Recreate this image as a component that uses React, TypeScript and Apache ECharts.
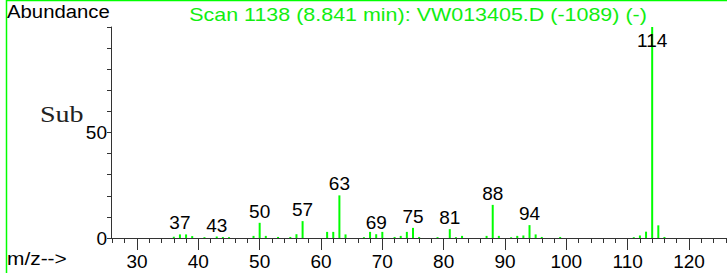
import React, { useEffect, useRef } from "react";
import * as echarts from "echarts";

const TITLE = "Scan 1138 (8.841 min): VW013405.D (-1089) (-)";
const mzValues = [36, 37, 38, 39, 41, 43, 44, 45, 49, 50, 51, 53, 55, 56, 57, 61, 62, 63, 64, 67, 68, 69, 70, 72, 73, 74, 75, 76, 79, 81, 82, 83, 87, 88, 89, 91, 92, 93, 94, 95, 96, 99, 111, 112, 113, 114, 115, 116];
const abundance = [0.6, 1.7, 1.7, 0.9, 0.4, 0.7, 0.5, 0.4, 1.0, 7.2, 1.0, 0.5, 0.5, 1.8, 8.0, 2.9, 2.9, 20.2, 1.7, 0.4, 2.9, 1.8, 2.9, 0.5, 1.0, 2.9, 4.8, 0.5, 0.4, 4.2, 0.4, 1.0, 1.0, 15.7, 1.0, 0.4, 1.0, 1.2, 6.1, 1.7, 0.5, 0.5, 0.4, 1.2, 3.0, 100, 6.0, 0.5];
const labeledPeaks = [37, 43, 50, 57, 63, 69, 75, 81, 88, 94, 114];
const xMajorTicks = [30, 40, 50, 60, 70, 80, 90, 100, 110, 120];
const xMinorTicks = [26, 28, 30, 32, 34, 36, 38, 40, 42, 44, 46, 48, 50, 52, 54, 56, 58, 60, 62, 64, 66, 68, 70, 72, 74, 76, 78, 80, 82, 84, 86, 88, 90, 92, 94, 96, 98, 100, 102, 104, 106, 108, 110, 112, 114, 116, 118, 120, 122, 124, 126];
const yTicks = [0, 10, 20, 30, 40, 50, 60, 70, 80, 90, 100];
const yLabels = [0, 50];

const GREEN = "#00ff00";
const AXIS = "#333333";
const FONT = "Liberation Sans, Arial, sans-serif";

export default function App() {
  const ref = useRef<HTMLDivElement>(null);
  useEffect(() => {
    if (!ref.current) return;
    const chart = echarts.init(ref.current, null, { renderer: "svg" });
    const maxVal = Math.max(...abundance);
    const data = mzValues.map((m, i) => {
      const v = abundance[i];
      if (labeledPeaks.includes(m)) {
        const isTop = v === maxVal;
        return {
          value: [m, v],
          label: {
            show: true,
            formatter: String(m),
            position: isTop ? "insideTop" : "top",
            distance: isTop ? 4 : 2,
            color: "#000",
            fontSize: 19,
            fontFamily: FONT,
          },
        };
      }
      return { value: [m, v] };
    });
    chart.setOption({
      animation: false,
      backgroundColor: "#fff",
      grid: { left: 111, right: 0, top: 27, bottom: 35, containLabel: false },
      xAxis: [
        {
          type: "value",
          min: 25.76,
          max: 126.2,
          axisLine: { show: true, onZero: false, lineStyle: { color: AXIS, width: 1 } },
          axisTick: { show: true, customValues: xMinorTicks, length: 5, lineStyle: { color: AXIS } },
          axisLabel: { show: true, customValues: xMajorTicks, color: "#000", fontSize: 19, fontFamily: FONT, margin: 14 },
          splitLine: { show: false },
        },
        {
          type: "value",
          min: 25.76,
          max: 126.2,
          position: "bottom",
          axisLine: { show: false },
          axisTick: { show: true, customValues: xMajorTicks, length: 12, lineStyle: { color: AXIS } },
          axisLabel: { show: false },
          splitLine: { show: false },
        },
      ],
      yAxis: {
        type: "value",
        min: 0,
        max: 100,
        axisLine: { show: true, lineStyle: { color: AXIS, width: 1 } },
        axisTick: { show: true, customValues: yTicks, length: 4, lineStyle: { color: AXIS } },
        axisLabel: { show: true, customValues: yLabels, color: "#000", fontSize: 19, fontFamily: FONT, margin: 4 },
        splitLine: { show: false },
      },
      series: [
        {
          type: "bar",
          xAxisIndex: 0,
          barWidth: 2,
          itemStyle: { color: GREEN },
          data,
        },
      ],
      graphic: [
        { type: "line", shape: { x1: 6.5, y1: 0, x2: 6.5, y2: 273 }, style: { stroke: GREEN, lineWidth: 1.5 } },
        { type: "line", shape: { x1: 6, y1: 0.5, x2: 727, y2: 0.5 }, style: { stroke: GREEN, lineWidth: 1.5 } },
        { type: "text", x: 7, y: 11, scaleX: 1.07, style: { text: "Abundance", fontSize: 19, fontFamily: FONT, fill: "#000", textVerticalAlign: "middle" } },
        { type: "text", x: 418, y: 14, scaleX: 1.13, style: { text: TITLE, fontSize: 19, fontFamily: FONT, fill: "#11ee11", textAlign: "center", textVerticalAlign: "middle" } },
        { type: "text", x: 40, y: 114, scaleX: 1.22, style: { text: "Sub", fontSize: 23, fontFamily: "Liberation Serif, serif", fill: "#222", textVerticalAlign: "middle" } },
        { type: "text", x: 7, y: 258, scaleX: 1.1, style: { text: "m/z-->", fontSize: 19, fontFamily: FONT, fill: "#000", textVerticalAlign: "middle" } },
      ],
    });
    return () => chart.dispose();
  }, []);
  return (
    <div
      ref={ref}
      style={{ position: "fixed", left: 0, top: 0, width: 727, height: 273 }}
    />
  );
}
